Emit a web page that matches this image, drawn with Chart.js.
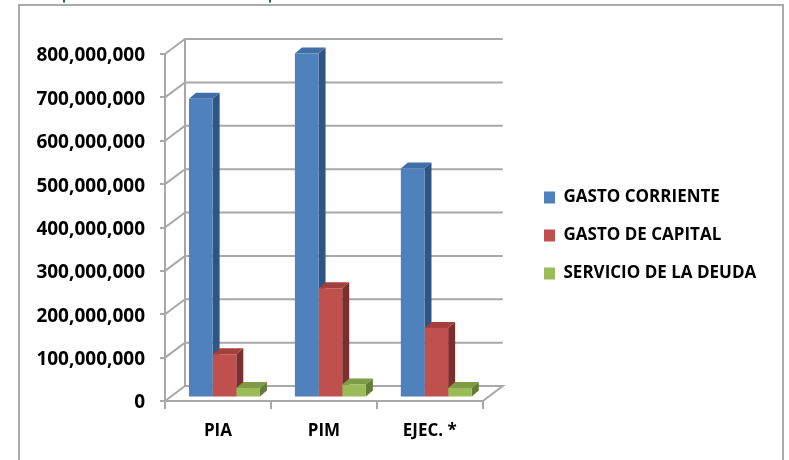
<!DOCTYPE html>
<html><head><meta charset="utf-8">
<script src="https://cdn.jsdelivr.net/npm/chart.js@4"></script>
<style>html,body{margin:0;padding:0;background:#fff}canvas{display:block;filter:blur(0.45px)}</style>
</head><body><canvas id="c" width="789" height="460"></canvas>
<script>
const categories = ["PIA", "PIM", "EJEC. *"];
const gastoCorriente = [689000000, 793000000, 528000000];
const gastoCapital = [100000000, 252000000, 160000000];
const servicioDeuda = [22000000, 30000000, 22000000];
const seriesNames = ["GASTO CORRIENTE", "GASTO DE CAPITAL", "SERVICIO DE LA DEUDA"];

const FONT = "'Open Sans'";
const GRID = "#a8a8a8";
const faces = [
  {top:"#3f6fa6", side:"#2f5584"},
  {top:"#a33f3c", side:"#7c2f2e"},
  {top:"#7f9c45", side:"#637d36"}
];
const wall = {dx:20, dy:15};
const barShift = {dx:6.5, dy:3.5};
const depth = {dx:7, dy:6};

const threeD = {
  id:"threeD",
  beforeDraw(chart){
    const c = chart.ctx;
    c.save();
    c.fillStyle="#fff"; c.fillRect(0,0,chart.width,chart.height);
    c.strokeStyle="#ababab"; c.lineWidth=2;
    c.strokeRect(19,5,764,470);
    c.strokeStyle="#1f6a2a"; c.lineWidth=2;
    c.beginPath(); c.moveTo(64,0); c.lineTo(64,2.5); c.moveTo(270,0); c.lineTo(270,2.5); c.stroke();
    c.restore();
  },
  beforeDatasetsDraw(chart){
    const c = chart.ctx, y = chart.scales.y, a = chart.chartArea;
    c.save();
    c.strokeStyle=GRID; c.lineWidth=2;
    y.ticks.forEach((t,i)=>{
      const p = y.getPixelForTick(i);
      c.beginPath();
      c.moveTo(a.left,p);
      c.lineTo(a.left+wall.dx,p-wall.dy);
      c.lineTo(a.right+wall.dx,p-wall.dy);
      if(i===0){c.lineTo(a.right,p);c.lineTo(a.left,p);}
      c.stroke();
    });
    c.beginPath();
    c.moveTo(a.left+wall.dx,y.getPixelForValue(0)-wall.dy);
    c.lineTo(a.left+wall.dx,y.getPixelForValue(800000000)-wall.dy);
    c.stroke();
    c.restore();
    c.save();
    c.translate(barShift.dx,-barShift.dy);
    chart.getSortedVisibleDatasetMetas().forEach(meta=>{
      const f = faces[meta.index];
      meta.data.forEach(el=>{
        const l = el.x-el.width/2, r = el.x+el.width/2, t = el.y, b = el.base;
        c.fillStyle=f.side;
        c.beginPath();
        c.moveTo(r,t); c.lineTo(r+depth.dx,t-depth.dy); c.lineTo(r+depth.dx,b-depth.dy); c.lineTo(r,b);
        c.closePath(); c.fill();
        c.fillStyle=f.top;
        c.beginPath();
        c.moveTo(l,t); c.lineTo(l+depth.dx,t-depth.dy); c.lineTo(r+depth.dx,t-depth.dy); c.lineTo(r,t);
        c.closePath(); c.fill();
      });
    });
  },
  afterDatasetsDraw(chart){ chart.ctx.restore(); },
  afterLayout(chart){
    const lg = chart.legend;
    const shift = 523-lg.left;
    lg.left += shift; lg.right += shift;
    lg.top -= 21.5; lg.bottom -= 21.5;
  }
};

new Chart(document.getElementById("c"),{
  type:"bar",
  data:{labels:categories,datasets:[
    {label:seriesNames[0],data:gastoCorriente,backgroundColor:"#4f81bd",clip:false},
    {label:seriesNames[1],data:gastoCapital,backgroundColor:"#c0504d",clip:false},
    {label:seriesNames[2],data:servicioDeuda,backgroundColor:"#9bbb59",clip:false}
  ]},
  options:{
    responsive:false,animation:false,
    layout:{padding:{left:0,top:54,right:63,bottom:0}},
    datasets:{bar:{barPercentage:1,categoryPercentage:0.67}},
    plugins:{
      tooltip:{enabled:false},
      title:{display:false},
      legend:{display:true,position:"right",maxWidth:300,
        labels:{boxWidth:11,boxHeight:12,padding:21,color:"#000",font:{family:FONT,size:17,weight:"bold"}}}
    },
    scales:{
      x:{
        grid:{display:true,drawOnChartArea:false,color:GRID,lineWidth:2,tickLength:8,offset:true},
        border:{display:true,color:GRID,width:2},
        ticks:{color:"#000",padding:12,font:{family:FONT,size:17,weight:"bold"},maxRotation:0},
        afterFit(s){s.height=59;}
      },
      y:{
        min:0,max:800000000,
        grid:{display:true,drawOnChartArea:false,color:GRID,lineWidth:2,tickLength:5},
        border:{display:true,color:GRID,width:2},
        ticks:{stepSize:100000000,color:"#000",padding:15,labelOffset:2,font:{family:FONT,size:19,weight:"bold"},
          callback:v=>v.toLocaleString("en-US")},
        afterFit(s){s.width=165;}
      }
    }
  },
  plugins:[threeD]
});
</script></body></html>
